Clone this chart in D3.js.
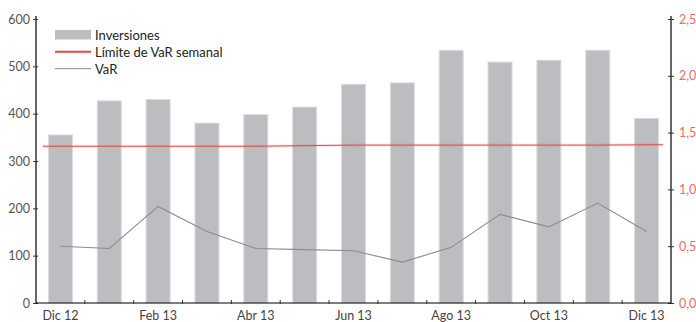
<!DOCTYPE html>
<html>
<head>
<meta charset="utf-8">
<script src="https://cdn.jsdelivr.net/npm/d3@7"></script>
<style>
  html, body { margin: 0; padding: 0; background: #fff; }
  svg { display: block; font-family: Lato, "Open Sans", sans-serif; }
</style>
</head>
<body>
<svg id="chart" width="696" height="322"></svg>
<script>
// Monthly investment (left axis) and weekly VaR (right axis), Dec 2012 – Dec 2013
const months = ["Dic 12", "Ene 13", "Feb 13", "Mar 13", "Abr 13", "May 13", "Jun 13",
                "Jul 13", "Ago 13", "Sep 13", "Oct 13", "Nov 13", "Dic 13"];
const inversiones = [355, 427, 430, 380, 398, 414, 462, 465, 534, 509, 513, 534, 390];
const varValues = [0.50, 0.48, 0.85, 0.63, 0.48, 0.47, 0.46, 0.36, 0.49, 0.78, 0.67, 0.88, 0.63];
const limiteVar = [1.38, 1.38, 1.38, 1.38, 1.38, 1.385, 1.39, 1.39, 1.39, 1.39, 1.39, 1.39, 1.393];
const leftTicks = [0, 100, 200, 300, 400, 500, 600];
const rightTicks = [0, 0.5, 1.0, 1.5, 2.0, 2.5];
const shownLabels = ["Dic 12", "Feb 13", "Abr 13", "Jun 13", "Ago 13", "Oct 13", "Dic 13"];
const legendItems = ["Inversiones", "Límite de VaR semanal", "VaR"];

const svg = d3.select("#chart");
const x0 = 36, x1 = 671, yTop = 19, yBottom = 303;

const band = d3.scaleBand().domain(months).range([x0, x1]).padding(0);
const yL = d3.scaleLinear().domain([0, 600]).range([yBottom, yTop]);
const yR = d3.scaleLinear().domain([0, 2.5]).range([yBottom, yTop]);
const cx = m => band(m) + band.bandwidth() / 2;

const barColor = "#bcbdc1", barEdge = "#dcdcde";
const redLine = "#e8483f", redText = "#ee6b66";
const varColor = "#8c8c8e";

// Bars
svg.append("g").selectAll("rect")
  .data(months)
  .join("rect")
  .attr("x", (m) => cx(m) - 12)
  .attr("width", 24)
  .attr("y", (m, i) => yL(inversiones[i]))
  .attr("height", (m, i) => yBottom - yL(inversiones[i]))
  .attr("fill", barColor)
  .attr("stroke", barEdge)
  .attr("stroke-width", 1);

// Weekly VaR limit
const limPts = months.map((m, i) => [cx(m), yR(limiteVar[i])]);
limPts.unshift([x0 + 7, yR(limiteVar[0])]);
limPts.push([x1 - 8, yR(limiteVar[limiteVar.length - 1])]);
svg.append("path")
  .attr("d", d3.line()(limPts))
  .attr("fill", "none")
  .attr("stroke", redLine)
  .attr("stroke-opacity", 0.12)
  .attr("stroke-width", 3);
svg.append("path")
  .attr("d", d3.line()(limPts))
  .attr("fill", "none")
  .attr("stroke", redLine)
  .attr("stroke-width", 1);

// VaR line
svg.append("path")
  .datum(varValues)
  .attr("d", d3.line().x((d, i) => cx(months[i])).y(d => yR(d)))
  .attr("fill", "none")
  .attr("stroke", varColor)
  .attr("stroke-width", 1.1);

// Left axis
const gL = svg.append("g").attr("transform", `translate(${x0},0)`)
  .call(d3.axisLeft(yL).tickValues(leftTicks).tickSize(3).tickPadding(3).tickFormat(d3.format("d")));
gL.select(".domain").attr("stroke", "#000").attr("stroke-width", 1.2).attr("d", `M0,${yTop - 3}V${yBottom}`);
gL.selectAll(".tick line").attr("stroke", "#333").attr("x1", 2);
gL.selectAll(".tick text").attr("fill", "#555").attr("font-size", 12.5).attr("font-family", "Lato, sans-serif");

// Right axis
const commaFmt = d3.formatLocale({ decimal: ",", thousands: ".", grouping: [3], currency: ["", ""] }).format(".1f");
const gR = svg.append("g").attr("transform", `translate(${x1},0)`)
  .call(d3.axisRight(yR).tickValues(rightTicks).tickSize(3).tickPadding(5).tickFormat(commaFmt));
gR.select(".domain").attr("stroke", "#000").attr("stroke-width", 1.2).attr("d", `M0,${yTop - 3}V${yBottom}`);
gR.selectAll(".tick line").attr("stroke", "#333").attr("x1", -3);
gR.selectAll(".tick text").attr("fill", redText).attr("font-size", 12.5).attr("font-family", "Lato, sans-serif");

// Bottom axis: ticks at month boundaries, labels every other month
const gB = svg.append("g").attr("transform", `translate(0,${yBottom})`);
gB.append("line").attr("x1", x0).attr("x2", x1).attr("stroke", "#000").attr("stroke-width", 1.2);
gB.selectAll("line.tk")
  .data(months.slice(1))
  .join("line")
  .attr("class", "tk")
  .attr("x1", m => band(m)).attr("x2", m => band(m))
  .attr("y1", -3).attr("y2", 1)
  .attr("stroke", "#333");
gB.selectAll("text")
  .data(shownLabels)
  .join("text")
  .attr("x", m => cx(m))
  .attr("y", 17)
  .attr("text-anchor", "middle")
  .attr("fill", "#444")
  .attr("font-size", 12.5)
  .text(d => d);

// Legend
const lg = svg.append("g").attr("transform", "translate(55,30)");
const rows = lg.selectAll("g").data(legendItems).join("g")
  .attr("transform", (d, i) => `translate(0,${i * 17})`);
rows.each(function (d, i) {
  const g = d3.select(this);
  if (i === 0) {
    g.append("rect").attr("x", 0).attr("y", 0).attr("width", 36).attr("height", 9.5).attr("fill", barColor);
  } else if (i === 1) {
    g.append("line").attr("x1", 0).attr("x2", 36).attr("y1", 4.7).attr("y2", 4.7)
      .attr("stroke", redLine).attr("stroke-width", 2);
  } else {
    g.append("line").attr("x1", 0).attr("x2", 36).attr("y1", 4.7).attr("y2", 4.7)
      .attr("stroke", varColor).attr("stroke-width", 1);
  }
  g.append("text").attr("x", 40).attr("y", 9.5).attr("fill", "#222").attr("font-size", 13).text(d);
});
</script>
</body>
</html>
